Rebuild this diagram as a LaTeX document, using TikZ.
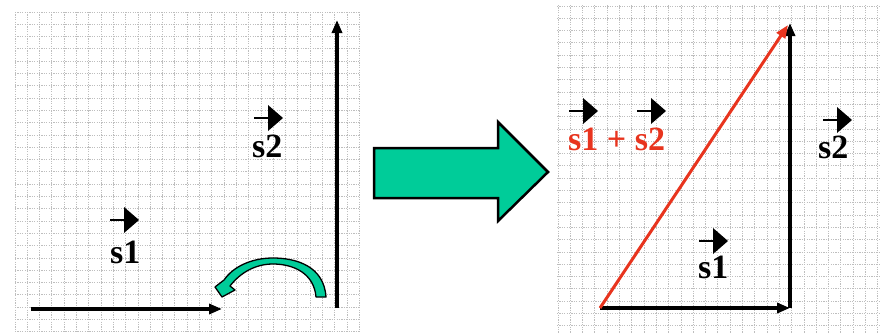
\documentclass[tikz,border=0pt]{standalone}
\usepackage{fontspec}
\setmainfont{Liberation Serif}
\usetikzlibrary{arrows.meta}
\definecolor{teal1}{RGB}{0,204,153}
\definecolor{vred}{RGB}{232,52,30}
\definecolor{gridc}{RGB}{190,190,190}
\tikzset{
  gridline/.style={draw=gridc,line width=0.9pt,dash pattern=on 1.2pt off 1.2pt},
  vecline/.style={line width=3.3pt,-{Triangle[length=13pt,width=10pt]}},
  lab/.style={font=\bfseries\fontsize{34}{34}\selectfont,inner sep=0pt,anchor=base west},
  pics/vecarrow/.style={code={
    \draw[line width=2pt] (0,0) -- (14,0);
    \fill (14,-13) -- (29,0) -- (14,13) -- cycle;
  }}
}
\begin{document}
\begin{tikzpicture}[x=1pt,y=-1pt]
\useasboundingbox (0,0) rectangle (881,333);
\fill[white] (0,0) rectangle (881,333);
% grids
\foreach \i in {0,...,28} \draw[gridline] ({15+\i*12.3},12) -- ({15+\i*12.3},333);
\foreach \j in {0,...,26} \draw[gridline] (15,{12+\j*12.3}) -- (360,{12+\j*12.3});
\foreach \i in {0,...,26} \draw[gridline] ({558+\i*12.3},5) -- ({558+\i*12.3},333);
\foreach \j in {0,...,26} \draw[gridline] (557,{6+\j*12.3}) -- (881,{6+\j*12.3});
% left panel
\coordinate (a0) at (31,309);
\coordinate (a1) at (222,309);
\coordinate (b0) at (337,308);
\coordinate (b1) at (337,20);
\draw[vecline] (a0) -- (a1);
\draw[vecline] (b0) -- (b1);
\node[lab] (ls1) at (110,263) {s1};
\pic at (110,220) {vecarrow};
\node[lab] (ls2) at (252,157) {s2};
\pic at (254,118) {vecarrow};
% curved green arrow
\draw[fill=teal1,line width=1.3pt,line join=round]
  (326,297) .. controls (324,266) and (296,258) .. (273,258)
  .. controls (251,258) and (233,267) .. (224,280)
  -- (215,287) -- (222,297) -- (235,290) -- (230,286)
  .. controls (240,273) and (255,264) .. (273,264)
  .. controls (293,264) and (314,273) .. (316,297) -- cycle;
% big arrow
\draw[fill=teal1,line width=2.5pt,line join=miter]
  (374,148) -- (498,148) -- (498,122) -- (548,172) -- (498,221) -- (498,198) -- (374,198) -- cycle;
% right panel
\coordinate (c0) at (600,308);
\coordinate (c1) at (790,308);
\coordinate (d1) at (790,23);
\coordinate (e1) at (788,25);
\draw[vecline] (c0) -- (c1);
\draw[vecline] (c1) -- (d1);
\draw[vecline,draw=vred,fill=vred,line width=3pt] (c0) -- (e1);
\node[lab,text=vred] (rsum) at (568,150) {s1 + s2};
\pic at (569,111) {vecarrow};
\pic at (637,111) {vecarrow};
\node[lab] (rs2) at (818,158) {s2};
\pic at (823,120) {vecarrow};
\node[lab] (rs1) at (698,278) {s1};
\pic at (699,241) {vecarrow};
\end{tikzpicture}
\end{document}
